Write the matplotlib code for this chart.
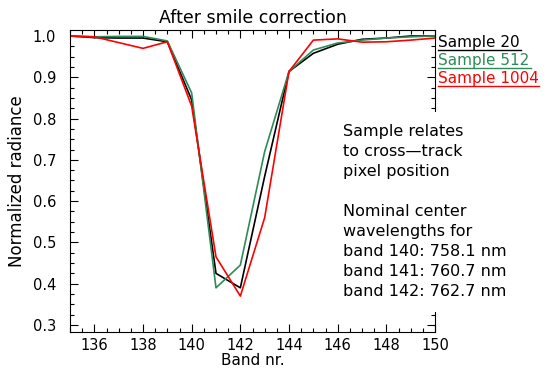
import matplotlib
matplotlib.use("Agg")
import matplotlib.pyplot as plt
from matplotlib.ticker import MultipleLocator

bands = list(range(135, 151))
sample_20 = [1.0, 0.996, 0.995, 0.995, 0.986, 0.845, 0.425, 0.39, 0.66, 0.914, 0.958, 0.98, 0.992, 0.995, 1.0, 1.0]
sample_512 = [1.0, 0.998, 0.999, 0.999, 0.988, 0.862, 0.39, 0.445, 0.72, 0.914, 0.966, 0.983, 0.99, 0.995, 0.998, 1.0]
sample_1004 = [1.0, 0.998, 0.984, 0.97, 0.986, 0.83, 0.465, 0.37, 0.56, 0.914, 0.99, 0.993, 0.985, 0.986, 0.99, 0.995]
series_labels = ["Sample 20", "Sample 512", "Sample 1004"]
series_colors = ["black", "#2e8b57", "#ff0000"]
xticks = [136, 138, 140, 142, 144, 146, 148, 150]
yticks = [0.3, 0.4, 0.5, 0.6, 0.7, 0.8, 0.9, 1.0]
note_text = ("Sample relates\nto cross\u2014track\npixel position\n\n"
             "Nominal center\nwavelengths for\nband 140: 758.1 nm\n"
             "band 141: 760.7 nm\nband 142: 762.7 nm")

plt.rcParams['font.family'] = ['DejaVu Sans']
fs = 10.5

fig = plt.figure(figsize=(5.5, 3.71), dpi=100)
ax = fig.add_axes([70/550, 39/371, 365/550, 302/371])

for vals, col in zip([sample_20, sample_512, sample_1004], series_colors):
    ax.plot(bands, vals, color=col, lw=1.2)

ax.set_xlim(135, 150)
ax.set_ylim(0.283, 1.0145)
ax.set_xticks(xticks)
ax.set_yticks(yticks)
ax.set_yticklabels([f"{v:.1f}" for v in yticks])
ax.xaxis.set_minor_locator(MultipleLocator(0.5))
ax.yaxis.set_minor_locator(MultipleLocator(0.025))
ax.tick_params(which='both', direction='in', top=True, right=True,
               labelsize=fs, width=0.8, color='black')
ax.tick_params(which='major', length=6)
ax.tick_params(which='minor', length=3)
ax.tick_params(axis='y', pad=10)
ax.tick_params(axis='x', pad=4)
for s in ax.spines.values():
    s.set_linewidth(0.8)

ax.set_xlabel("Band nr.", fontsize=fs + 0.5, labelpad=0)
ax.set_ylabel("Normalized radiance", fontsize=12, labelpad=5)
ax.set_title("After smile correction", fontsize=12.5, pad=5)

# legend-like labels with underlines
ys = [42, 60, 78]
ends = [521, 531, 539]
for lab, col, yp, xe in zip(series_labels, series_colors, ys, ends):
    fig.text(438/550, 1 - yp/371, lab, color=col, fontsize=11, va='center', ha='left')
    fig.add_artist(plt.Line2D([438/550, xe/550], [1 - (yp+8)/371]*2, color=col, lw=1.0))

fig.text(343/550, 1 - 124/371, note_text, fontsize=11.5, va='top', ha='left',
         linespacing=1.42,
         bbox=dict(facecolor='white', edgecolor='none', pad=9))

fig.savefig("out.png", dpi=100)
